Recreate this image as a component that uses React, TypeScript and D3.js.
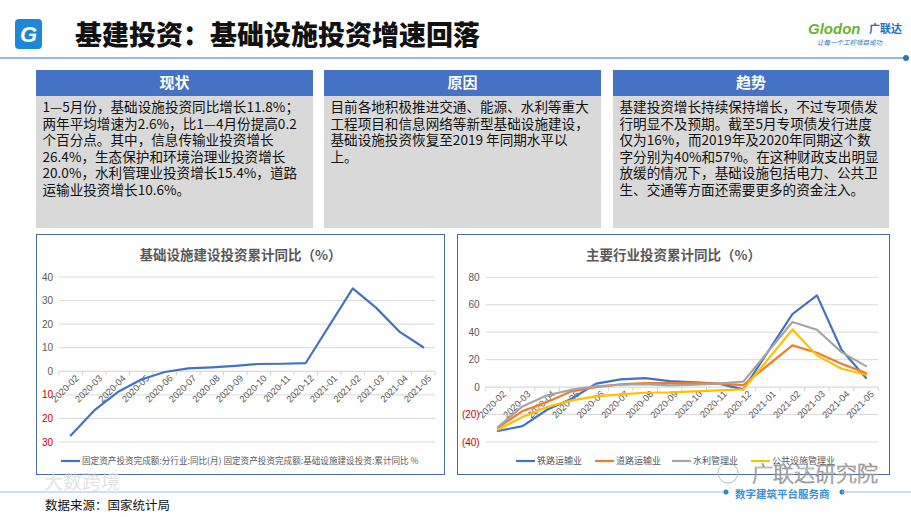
import * as d3 from "d3";

const months = [
  "2020-02", "2020-03", "2020-04", "2020-05", "2020-06", "2020-07", "2020-08", "2020-09",
  "2020-10", "2020-11", "2020-12", "2021-01", "2021-02", "2021-03", "2021-04", "2021-05",
];

// 基础设施建设投资累计同比 (2021-01 not published)
const infraYoY = [-27.2, -16.6, -8.8, -3.5, -0.3, 1.2, 1.7, 2.3, 3.1, 3.2, 3.5, null, 35.2, 26.9, 16.7, 10.2];

// 主要行业投资累计同比
const railway = [-32.0, -28.4, -16.5, -8.5, 2.5, 5.6, 6.6, 4.4, 3.4, 2.5, -1.7, null, 53.2, 66.8, 27.2, 6.6];
const road = [-29.6, -17.5, -10.9, -3.1, 0.0, 2.0, 2.9, 2.9, 2.9, 2.5, 1.5, null, 30.4, 25.0, 17.0, 10.2];
const water = [-29.1, -14.1, -6.0, -1.9, 0.5, 1.7, 2.2, 1.2, 1.7, 2.5, 4.0, null, 47.4, 41.8, 25.5, 15.3];
const publicFac = [-31.0, -21.8, -14.6, -9.7, -6.8, -5.3, -4.1, -3.9, -3.1, -2.4, -1.7, null, 42.0, 23.1, 13.4, 9.0];

const industryNames = ["铁路运输业", "道路运输业", "水利管理业", "公共设施管理业"];
const industryColors = ["#4472C4", "#ED7D31", "#A5A5A5", "#FFC000"];

const leftTicks = [-30, -20, -10, 0, 10, 20, 30, 40];
const rightTicks = [-40, -20, 0, 20, 40, 60, 80];

const boxTitles = ["现状", "原因", "趋势"];
const boxLines = [
  [
    "1—5月份，基础设施投资同比增长11.8%；",
    "两年平均增速为2.6%，比1—4月份提高0.2",
    "个百分点。其中，信息传输业投资增长",
    "26.4%，生态保护和环境治理业投资增长",
    "20.0%，水利管理业投资增长15.4%，道路",
    "运输业投资增长10.6%。",
  ],
  [
    "目前各地积极推进交通、能源、水利等重大",
    "工程项目和信息网络等新型基础设施建设，",
    "基础设施投资恢复至2019 年同期水平以",
    "上。",
  ],
  [
    "基建投资增长持续保持增长，不过专项债发",
    "行明显不及预期。截至5月专项债发行进度",
    "仅为16%，而2019年及2020年同期这个数",
    "字分别为40%和57%。在这种财政支出明显",
    "放缓的情况下，基础设施包括电力、公共卫",
    "生、交通等方面还需要更多的资金注入。",
  ],
];

const CJK = "'Noto Sans CJK SC', 'Noto Sans', sans-serif";
const LATIN = "'Liberation Sans', Arial, 'Noto Sans CJK SC', sans-serif";

type Series = { name: string; color: string; values: (number | null)[] };

interface LineChartProps {
  box: [number, number, number, number]; // panel x, y, w, h
  plot: [number, number, number, number]; // left, right, top(y of max), bottom(y of min)
  domain: [number, number];
  ticks: number[];
  title: string;
  series: Series[];
  negFormat: (v: number) => string;
  legend: { x: number; text: string; color: string; fontSize?: number }[];
}

function LineChart({ box, plot, domain, ticks, title, series, negFormat, legend }: LineChartProps) {
  const [bx, by, bw, bh] = box;
  const [left, right, top, bottom] = plot;
  const x = d3.scaleBand<string>().domain(months).range([left, right]).padding(0);
  const y = d3.scaleLinear().domain(domain).range([bottom, top]);
  const cx = (m: string) => (x(m) ?? 0) + x.bandwidth() / 2;
  const y0 = y(0);

  const line = d3
    .line<{ m: string; v: number }>()
    .x((d) => cx(d.m))
    .y((d) => y(d.v));

  return (
    <g>
      <rect x={bx} y={by} width={bw} height={bh} fill="#fff" stroke="#4a6d9f" strokeWidth={1} />
      <text x={bx + bw / 2} y={by + 25} textAnchor="middle" fontFamily={CJK} fontSize={13.5} fontWeight={700} fill="#595959">
        {title}
      </text>
      {ticks.map((t) => (
        <g key={t}>
          {t !== 0 && <line x1={left} x2={right} y1={y(t)} y2={y(t)} stroke="#d9d9d9" strokeWidth={1} />}
          <text
            x={left - 6}
            y={y(t)}
            dy="0.35em"
            textAnchor="end"
            fontFamily={LATIN}
            fontSize={10}
            fill={t < 0 ? "#c00000" : "#595959"}
          >
            {t < 0 ? negFormat(t) : t}
          </text>
        </g>
      ))}
      <line x1={left} x2={right} y1={y0} y2={y0} stroke="#d0d0d0" strokeWidth={1} />
      {d3.range(months.length + 1).map((i) => {
        const xx = left + i * x.bandwidth();
        return <line key={i} x1={xx} x2={xx} y1={y0} y2={y0 + 4} stroke="#d0d0d0" />;
      })}
      {months.map((m) => (
        <text
          key={m}
          transform={`translate(${cx(m) + 4},${y0 + 3}) rotate(-45)`}
          textAnchor="end"
          dy="0.7em"
          fontFamily={LATIN}
          fontSize={9.3}
          fill="#595959"
        >
          {m}
        </text>
      ))}
      {series.map((s) => {
        const pts = months
          .map((m, i) => ({ m, v: s.values[i] }))
          .filter((d): d is { m: string; v: number } => d.v !== null);
        return (
          <path
            key={s.name}
            d={line(pts) ?? undefined}
            fill="none"
            stroke={s.color}
            strokeWidth={2.2}
            strokeLinejoin="round"
            strokeLinecap="round"
          />
        );
      })}
      {legend.map((l, i) => (
        <g key={i}>
          <line x1={l.x} x2={l.x + 19} y1={461} y2={461} stroke={l.color} strokeWidth={2.2} />
          <text x={l.x + 21} y={461} dy="0.35em" fontFamily={CJK} fontSize={l.fontSize ?? 9} fill="#595959">
            {l.text}
          </text>
        </g>
      ))}
    </g>
  );
}

function Header() {
  return (
    <g>
      <rect x={15} y={19} width={27} height={30} rx={4} fill="#1f87d8" />
      <text x={28.5} y={42} textAnchor="middle" fontFamily={LATIN} fontSize={22} fontWeight={700} fontStyle="italic" fill="#fff">
        G
      </text>
      <text x={75} y={45} fontFamily={CJK} fontSize={27} fontWeight={900} fill="#111">
        基建投资：基础设施投资增速回落
      </text>
      <text x={808} y={34} fontFamily={LATIN} fontSize={15} fontWeight={700} fontStyle="italic" fill="#6ab42d">
        Glodon
      </text>
      <text x={869} y={33} fontFamily={CJK} fontSize={11} fontWeight={700} fill="#1f6fc0">
        广联达
      </text>
      <text x={817} y={45} fontFamily={CJK} fontSize={6.5} fontStyle="italic" fill="#1f6fc0">
        让每一个工程项目成功
      </text>
      <line x1={0} x2={905} y1={58} y2={58} stroke="#2e75b6" strokeWidth={1.2} />
      <circle cx={906} cy={58} r={3} fill="#2e75b6" />
    </g>
  );
}

function TextBoxes() {
  const xs: [number, number][] = [
    [36, 313],
    [324, 601],
    [613, 889],
  ];
  return (
    <g>
      {xs.map(([x0, x1], i) => (
        <g key={i}>
          <rect x={x0} y={96} width={x1 - x0} height={132} fill="#d9d9d9" />
          <rect x={x0} y={70} width={x1 - x0} height={26} fill="#4472C4" />
          <text x={(x0 + x1) / 2} y={83} dy="0.36em" textAnchor="middle" fontFamily={CJK} fontSize={15} fontWeight={700} fill="#fff">
            {boxTitles[i]}
          </text>
          {boxLines[i].map((t, j) => (
            <text key={j} x={x0 + 6.5} y={112 + j * 16.6} fontFamily={CJK} fontSize={13.6} fill="#111">
              {t}
            </text>
          ))}
        </g>
      ))}
    </g>
  );
}

function Footer() {
  return (
    <g>
      <text x={44} y={489} fontFamily={CJK} fontSize={19} fill="#d8d8d8" opacity={0.7}>
        大数跨境
      </text>
      <line x1={0} x2={725} y1={492} y2={492} stroke="#9dc3e6" strokeWidth={1} />
      <circle cx={726} cy={492} r={2.5} fill="#2e86d0" />
      <circle cx={842} cy={492} r={2.5} fill="#2e86d0" />
      <line x1={842} x2={911} y1={492} y2={492} stroke="#9dc3e6" strokeWidth={1} />
      <text x={45} y={510} fontFamily={CJK} fontSize={12.5} fill="#111">
        数据来源：国家统计局
      </text>
      <text x={752} y={481} fontFamily={CJK} fontSize={21} fontWeight={300} fill="#ffffff" fillOpacity={0.5} stroke="#8a8a8a" strokeWidth={0.7}>
        广联达研究院
      </text>
      <circle cx={728} cy={473} r={10} fill="none" stroke="#bbb" strokeWidth={1} />
      <text x={735} y={498} fontFamily={CJK} fontSize={10.5} fontWeight={700} fill="#3b8fd4">
        数字建筑平台服务商
      </text>
    </g>
  );
}

export default function App() {
  const leftSeries: Series[] = [{ name: "infra", color: "#4472C4", values: infraYoY }];
  const rightValues = [railway, road, water, publicFac];
  const rightSeries: Series[] = industryNames.map((n, i) => ({ name: n, color: industryColors[i], values: rightValues[i] }));

  return (
    <div style={{ position: "absolute", left: 0, top: 0, width: 911, height: 517, background: "#fff" }}>
      <svg width={911} height={517} viewBox="0 0 911 517">
        <rect width={911} height={517} fill="#fff" />
        <Header />
        <TextBoxes />
        <LineChart
          box={[36.5, 234.5, 408, 240]}
          plot={[59, 435, 277, 442]}
          domain={[-30, 40]}
          ticks={leftTicks}
          title="基础设施建设投资累计同比（%）"
          series={leftSeries}
          negFormat={(v) => String(Math.abs(v))}
          legend={[
            {
              x: 61,
              text: "固定资产投资完成额:分行业:同比(月) 固定资产投资完成额:基础设施建设投资:累计同比 %",
              color: "#4472C4",
              fontSize: 8.6,
            },
          ]}
        />
        <LineChart
          box={[457.5, 234.5, 432, 240]}
          plot={[485.7, 878.3, 277.3, 442]}
          domain={[-40, 80]}
          ticks={rightTicks}
          title="主要行业投资累计同比（%）"
          series={rightSeries}
          negFormat={(v) => `(${Math.abs(v)})`}
          legend={industryNames.map((n, i) => ({ x: [516, 595, 672, 751][i], text: n, color: industryColors[i] }))}
        />
        <Footer />
      </svg>
    </div>
  );
}
